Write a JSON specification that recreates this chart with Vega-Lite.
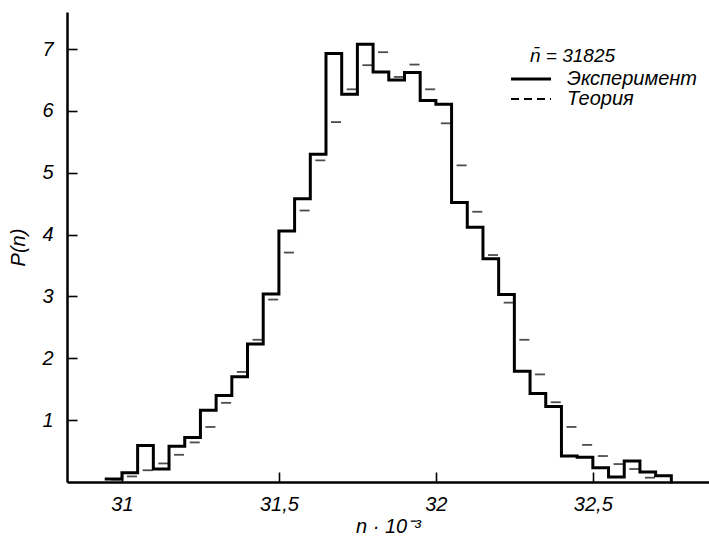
{
  "$schema": "https://vega.github.io/schema/vega-lite/v6.json",
  "width": 642,
  "height": 470,
  "autosize": {"type": "none"},
  "padding": {"left": 67, "top": 12, "right": 0, "bottom": 56},
  "background": "white",
  "config": {
    "view": {"stroke": null},
    "axis": {
      "domainColor": "black",
      "domainWidth": 2.5,
      "tickColor": "black",
      "tickWidth": 1.6,
      "tickSize": -10,
      "labelColor": "black",
      "labelFont": "Liberation Sans",
      "labelFontStyle": "italic",
      "labelFontSize": 20,
      "titleColor": "black",
      "titleFont": "Liberation Sans",
      "titleFontStyle": "italic",
      "titleFontWeight": "normal",
      "titleFontSize": 20,
      "grid": false
    }
  },
  "data": {
    "values": [
      {"lo": 30.95, "exp": 0.05, "theo": 0.04},
      {"lo": 31.00, "exp": 0.15, "theo": 0.09},
      {"lo": 31.05, "exp": 0.59, "theo": 0.19},
      {"lo": 31.10, "exp": 0.21, "theo": 0.30},
      {"lo": 31.15, "exp": 0.58, "theo": 0.44},
      {"lo": 31.20, "exp": 0.72, "theo": 0.64},
      {"lo": 31.25, "exp": 1.16, "theo": 0.89},
      {"lo": 31.30, "exp": 1.40, "theo": 1.28},
      {"lo": 31.35, "exp": 1.70, "theo": 1.78},
      {"lo": 31.40, "exp": 2.23, "theo": 2.30},
      {"lo": 31.45, "exp": 3.04, "theo": 2.95},
      {"lo": 31.50, "exp": 4.06, "theo": 3.71},
      {"lo": 31.55, "exp": 4.58, "theo": 4.39},
      {"lo": 31.60, "exp": 5.30, "theo": 5.20},
      {"lo": 31.65, "exp": 6.93, "theo": 5.82},
      {"lo": 31.70, "exp": 6.27, "theo": 6.35},
      {"lo": 31.75, "exp": 7.08, "theo": 6.74},
      {"lo": 31.80, "exp": 6.63, "theo": 6.95},
      {"lo": 31.85, "exp": 6.50, "theo": 6.55},
      {"lo": 31.90, "exp": 6.62, "theo": 6.75},
      {"lo": 31.95, "exp": 6.17, "theo": 6.35},
      {"lo": 32.00, "exp": 6.11, "theo": 5.80},
      {"lo": 32.05, "exp": 4.52, "theo": 5.12},
      {"lo": 32.10, "exp": 4.12, "theo": 4.37},
      {"lo": 32.15, "exp": 3.61, "theo": 3.67},
      {"lo": 32.20, "exp": 3.03, "theo": 2.90},
      {"lo": 32.25, "exp": 1.79, "theo": 2.30},
      {"lo": 32.30, "exp": 1.43, "theo": 1.74},
      {"lo": 32.35, "exp": 1.22, "theo": 1.29},
      {"lo": 32.40, "exp": 0.42, "theo": 0.89},
      {"lo": 32.45, "exp": 0.40, "theo": 0.60},
      {"lo": 32.50, "exp": 0.23, "theo": 0.42},
      {"lo": 32.55, "exp": 0.08, "theo": 0.29},
      {"lo": 32.60, "exp": 0.34, "theo": 0.21},
      {"lo": 32.65, "exp": 0.16, "theo": 0.07},
      {"lo": 32.70, "exp": 0.10, "theo": 0.10},
      {"lo": 32.75, "exp": 0, "theo": null}
    ]
  },
  "layer": [
    {
      "mark": {"type": "line", "interpolate": "step-after", "color": "black", "strokeWidth": 3, "strokeJoin": "miter", "strokeCap": "square"},
      "encoding": {
        "x": {
          "field": "lo",
          "type": "quantitative",
          "scale": {"domain": [30.825, 32.87], "nice": false, "zero": false},
          "axis": {
            "values": [31, 31.5, 32, 32.5],
            "labelExpr": "replace(format(datum.value, '~g'), '.', ',')",
            "labelPadding": 22,
            "title": "n · 10⁻³",
            "titlePadding": 2
          }
        },
        "y": {
          "field": "exp",
          "type": "quantitative",
          "scale": {"domain": [0, 7.6], "nice": false},
          "axis": {
            "values": [1, 2, 3, 4, 5, 6, 7],
            "format": "d",
            "labelPadding": 24,
            "title": "P(n)",
            "titlePadding": 13
          }
        },
        "strokeDash": {
          "datum": "Эксперимент",
          "type": "nominal",
          "scale": {"domain": ["Эксперимент", "Теория"], "range": [[1, 0], [8, 5]]},
          "legend": {
            "orient": "none",
            "legendX": 454,
            "legendY": 35,
            "padding": 0,
            "title": "n̄ = 31825",
            "titleFont": "Liberation Sans",
            "titleFontSize": 19,
            "titleFontStyle": "italic",
            "titleFontWeight": "normal",
            "titleColor": "black",
            "titlePadding": 3,
            "labelFont": "Liberation Sans",
            "labelFontSize": 20,
            "labelFontStyle": "italic",
            "labelColor": "black",
            "labelOffset": 26,
            "symbolType": "stroke",
            "symbolSize": 1600,
            "symbolStrokeColor": "black",
            "symbolStrokeWidth": 3,
            "rowPadding": -2,
            "encode": {
              "title": {"update": {"dx": {"value": 9}}},
              "symbols": {"update": {"strokeWidth": {"signal": "datum.value === 'Эксперимент' ? 3 : 1.8"}}}
            }
          }
        }
      }
    },
    {
      "transform": [{"filter": "isValid(datum.theo)"}],
      "mark": {"type": "tick", "orient": "horizontal", "size": 10, "thickness": 1.8, "xOffset": 10, "color": "black"},
      "encoding": {
        "x": {"field": "lo", "type": "quantitative"},
        "y": {"field": "theo", "type": "quantitative"},
        "strokeDash": {"datum": "Теория", "type": "nominal"}
      }
    }
  ]
}
